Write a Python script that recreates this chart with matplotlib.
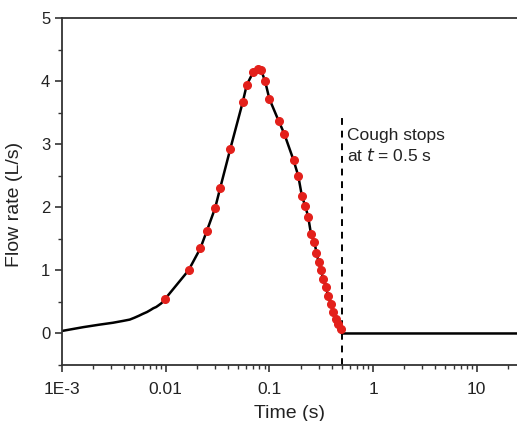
import numpy as np
import matplotlib
matplotlib.use('Agg')
import matplotlib.pyplot as plt
from matplotlib.ticker import FixedLocator, LogLocator, NullFormatter, MultipleLocator

plt.rcParams['font.family'] = ['Liberation Sans', 'DejaVu Sans']

# early part of the fitted curve (no markers)
t_early = [0.001, 0.0016, 0.0023, 0.0031, 0.0039, 0.0045, 0.0050, 0.0055, 0.0060,
           0.0066, 0.0071, 0.0076, 0.0081, 0.0086, 0.0091, 0.0095]
q_early = [0.04, 0.10, 0.14, 0.17, 0.20, 0.22, 0.25, 0.28, 0.31,
           0.34, 0.37, 0.40, 0.42, 0.45, 0.48, 0.51]

# measured points (red markers)
t_pts = [0.0099, 0.0166, 0.0216, 0.0250, 0.0300, 0.0336, 0.0419, 0.0554, 0.0605,
         0.0702, 0.0771, 0.0835, 0.0910, 0.100, 0.123, 0.139, 0.171, 0.190, 0.206,
         0.222, 0.237, 0.252, 0.272, 0.285, 0.298, 0.314, 0.331, 0.352, 0.370,
         0.393, 0.413, 0.438, 0.462, 0.490]
q_pts = [0.55, 1.00, 1.35, 1.63, 1.99, 2.31, 2.92, 3.67, 3.94,
         4.15, 4.19, 4.17, 4.00, 3.72, 3.37, 3.17, 2.75, 2.50, 2.18,
         2.02, 1.85, 1.58, 1.45, 1.28, 1.14, 1.00, 0.87, 0.73, 0.59,
         0.46, 0.34, 0.23, 0.15, 0.07]

# after the cough stops
t_after = [0.5, 30]
q_after = [0.0, 0.0]

t_stop = 0.5

t_line = t_early + t_pts + t_after
q_line = q_early + q_pts + q_after

fig = plt.figure(figsize=(5.17, 4.21), dpi=100)
ax = fig.add_axes([0.12, 0.133, 0.88, 0.824])

ax.plot(t_line, q_line, color='black', lw=1.8, zorder=2, solid_joinstyle='round')
ax.plot(t_pts, q_pts, 'o', color='#e3201b', ms=5.5, mec='#e3201b', zorder=3)
ax.plot([t_stop, t_stop], [-0.5, 3.45], color='black', lw=1.4,
        dashes=(3.5, 3), zorder=1)

ax.text(0.56, 2.97, 'Cough stops\nat $\\it{t}$ = 0.5 s', fontsize=12.5,
        va='center', ha='left', color='#222222', linespacing=1.25)

ax.set_xscale('log')
ax.set_xlim(0.001, 24.5)
ax.set_ylim(-0.5, 5)

ax.xaxis.set_major_locator(FixedLocator([0.001, 0.01, 0.1, 1, 10]))
ax.set_xticklabels(['1E-3', '0.01', '0.1', '1', '10'])
ax.xaxis.set_minor_locator(LogLocator(base=10, subs=np.arange(2, 10)))
ax.xaxis.set_minor_formatter(NullFormatter())
ax.yaxis.set_major_locator(MultipleLocator(1))
ax.yaxis.set_minor_locator(MultipleLocator(0.5))

for s in ['left', 'bottom', 'top']:
    ax.spines[s].set_color('#333333')
    ax.spines[s].set_linewidth(1.3)
ax.spines['right'].set_visible(False)

ax.tick_params(which='major', direction='out', length=5, width=1.2,
               color='#333333', labelsize=12.5, labelcolor='#222222')
ax.tick_params(which='minor', direction='out', length=3, width=1.0,
               color='#333333')
ax.tick_params(axis='x', pad=7)
ax.tick_params(axis='y', labelsize=12)

ax.set_xlabel('Time (s)', fontsize=14, color='#222222', labelpad=6)
ax.set_ylabel('Flow rate (L/s)', fontsize=14, color='#222222')
ax.yaxis.set_label_coords(-0.085, 0.464)

fig.savefig('out.png', dpi=100)
